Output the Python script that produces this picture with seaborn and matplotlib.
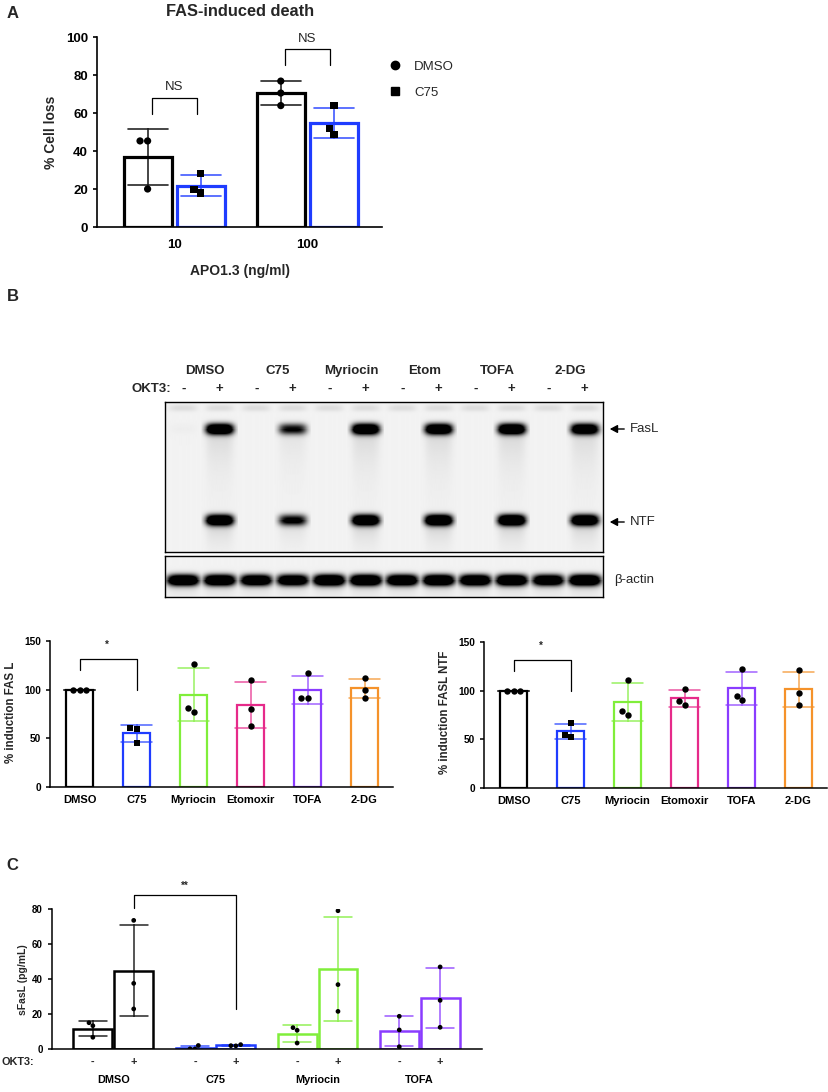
import numpy as np
import pandas as pd
import matplotlib
matplotlib.use("Agg")
import matplotlib.pyplot as plt
from matplotlib.lines import Line2D
from matplotlib.transforms import blended_transform_factory as blend
import seaborn as sns

# ---------------- data ----------------
# Panel A
a_conc = ["10", "100"]
a_treat = ["DMSO", "C75"]
a_dmso_10 = [45.3, 45.3, 20.0]
a_dmso_100 = [76.8, 70.5, 63.9]
a_c75_10 = [28.0, 17.9, 19.6]
a_c75_100 = [63.9, 51.9, 48.8]
a_colors = ["#000000", "#1f3cff"]

# Panel B blot
blot_groups = ["DMSO", "C75", "Myriocin", "Etom", "TOFA", "2-DG"]
okt3_signs = ["-", "+"]
well_band = [0.05] * 12
fasl_band = [0.01, 0.95, 0.0, 0.55, 0.0, 0.95, 0.0, 0.92, 0.0, 0.95, 0.0, 0.9]
ntf_band = [0.0, 0.95, 0.0, 0.6, 0.0, 0.95, 0.0, 1.0, 0.0, 1.0, 0.0, 0.95]
actin_band = [0.95, 0.95, 0.9, 0.88, 1.0, 1.0, 0.95, 0.97, 0.95, 0.97, 0.88, 1.0]

# Panel B quantification
b_drugs = ["DMSO", "C75", "Myriocin", "Etomoxir", "TOFA", "2-DG"]
b_colors = ["#000000", "#1f3cff", "#80ee3a", "#e62a8a", "#8a3cff", "#f5922a"]
fasl_dmso = [100, 100, 100]
fasl_c75 = [60.9, 59.9, 45.2]
fasl_myr = [125.9, 77.2, 81.0]
fasl_eto = [110.2, 79.9, 62.6]
fasl_tofa = [116.7, 91.5, 91.8]
fasl_2dg = [111.9, 100.0, 91.8]
ntf_dmso = [100, 100, 100]
ntf_c75 = [67.1, 52.7, 54.8]
ntf_myr = [111.0, 75.3, 79.1]
ntf_eto = [101.4, 85.3, 89.4]
ntf_tofa = [121.9, 90.4, 94.9]
ntf_2dg = [120.9, 97.3, 85.6]

# Panel C
c_groups = ["DMSO", "C75", "Myriocin", "TOFA"]
c_colors = ["#000000", "#1f3cff", "#80ee3a", "#8a3cff"]
c_minus = [[15.0, 13.3, 6.7], [0.1, 2.0, 0.0], [12.2, 10.7, 3.4], [18.7, 10.9, 1.3]]
c_plus = [[73.5, 37.5, 22.9], [1.8, 2.5, 1.9], [79.0, 36.8, 21.5], [46.9, 27.8, 12.4]]

# ---------------- setup ----------------
sns.set_theme(style="ticks")
plt.rcParams['font.family'] = ['Liberation Sans', 'DejaVu Sans']
plt.rcParams['font.weight'] = 'bold'
plt.rcParams['axes.labelweight'] = 'bold'

W, H = 829, 1092
fig = plt.figure(figsize=(W / 100, H / 100), dpi=100)


def rect(x0, y0, x1, y1):
    return [x0 / W, 1 - y1 / H, (x1 - x0) / W, (y1 - y0) / H]


def ftext(x, y, s, **kw):
    kw.setdefault("ha", "center")
    kw.setdefault("va", "center")
    fig.text(x / W, 1 - y / H, s, **kw)


def style_axes(ax, lw, tick_size):
    sns.despine(ax=ax)
    for sp in ("left", "bottom"):
        ax.spines[sp].set_linewidth(lw)
        ax.spines[sp].set_color("black")
    ax.tick_params(axis="y", length=3, width=lw, labelsize=tick_size, colors="black")
    ax.set_xlabel("")
    ax.set_ylabel("")
    for t in ax.get_yticklabels() + ax.get_xticklabels():
        t.set_fontweight("bold")


# ---------------- Panel A ----------------
ftext(13, 14, "A", fontsize=12, fontweight="bold")
ftext(240, 11, "FAS-induced death", fontsize=11.8, fontweight="bold")
axA = fig.add_axes(rect(97, 37, 382, 227))
rowsA = []
for trt, vals10, vals100 in [("DMSO", a_dmso_10, a_dmso_100), ("C75", a_c75_10, a_c75_100)]:
    for v in vals10:
        rowsA.append({"conc": "10", "trt": trt, "val": v})
    for v in vals100:
        rowsA.append({"conc": "100", "trt": trt, "val": v})
dfA = pd.DataFrame(rowsA)
sns.barplot(data=dfA, x="conc", y="val", hue="trt", order=a_conc, hue_order=a_treat,
            palette=a_colors, fill=False, errorbar="sd", capsize=0.6, gap=0.1,
            linewidth=2.3, err_kws={"linewidth": 1.2, "alpha": 0.85}, legend=False, ax=axA)
for trt, mk in zip(a_treat, ["o", "s"]):
    sns.swarmplot(data=dfA[dfA.trt == trt], x="conc", y="val", hue="trt", order=a_conc,
                  hue_order=a_treat, dodge=True, palette=["black", "black"], marker=mk,
                  size=5.2, linewidth=0, legend=False, zorder=4, ax=axA)
axA.set_xlim(-0.58, 1.56)
axA.set_ylim(0, 100)
axA.set_yticks([0, 20, 40, 60, 80, 100])
style_axes(axA, 1.2, 9.5)
axA.tick_params(axis="x", length=0, pad=9, labelsize=9.5, colors="black")
for t in axA.get_xticklabels():
    t.set_fontweight("bold")
axA.plot([-0.17, -0.17, 0.17, 0.17], [59.6, 68, 68, 59.6], color="black", lw=0.9)
axA.text(0, 70.5, "NS", ha="center", va="bottom", fontsize=9.5, fontweight="normal")
axA.plot([0.83, 0.83, 1.17, 1.17], [85.4, 93.5, 93.5, 85.4], color="black", lw=0.9)
axA.text(1, 96, "NS", ha="center", va="bottom", fontsize=9.5, fontweight="normal", clip_on=False)
ftext(51, 132, "% Cell loss", rotation=90, fontsize=10, fontweight="bold")
ftext(240, 271, "APO1.3 (ng/ml)", fontsize=10, fontweight="bold")
handles = [Line2D([], [], marker="o", ls="", color="black", markersize=6),
           Line2D([], [], marker="s", ls="", color="black", markersize=5.5)]
axA.legend(handles, a_treat, loc="upper left", bbox_to_anchor=(377 / W, 1 - 49 / H),
           bbox_transform=fig.transFigure, frameon=False, fontsize=9.5,
           labelspacing=1.0, handletextpad=0.9, handlelength=1.0,
           prop={"weight": "normal", "size": 9.5})

# ---------------- Panel B blot ----------------
ftext(13, 297, "B", fontsize=12, fontweight="bold")


def blot_image(bands, rows, lane_frac, base, n_sub=40):
    ncol = 12 * n_sub
    xs = (np.arange(ncol) + 0.5) / n_sub
    lane = np.floor(xs).astype(int)
    frac = xs - lane - 0.5
    h_core = np.exp(-(np.abs(frac) / (lane_frac / 2)) ** 4)
    ys = np.arange(rows) + 0.5
    img = np.full((rows, ncol), base)
    for inten, cy, sig, smear_amp, smear_len in bands:
        I = np.asarray(inten, dtype=float)[lane]
        v = np.exp(-(np.abs(ys - cy) / sig) ** 2.2)
        sm = np.where(ys > cy, smear_amp * np.exp(-(ys - cy) / smear_len), 0.0)
        img += np.outer(v, h_core * I * 1.7) + np.outer(sm, h_core * I)
    return np.clip(img, 0, 1)


axBl = fig.add_axes(rect(165, 402, 603, 552))
img_main = blot_image([(well_band, 6, 3.5, 0.0, 1.0),
                       (fasl_band, 27, 5.5, 0.14, 30.0),
                       (ntf_band, 118, 5.5, 0.22, 13.0)], 150, 0.76, 0.05)
axBl.imshow(img_main, cmap="gray_r", vmin=0, vmax=1, aspect="auto",
            extent=(-0.5, 11.5, 150, 0), interpolation="bilinear")
axAc = fig.add_axes(rect(165, 556, 603, 597))
img_act = blot_image([(actin_band, 24, 5.5, 0.3, 7.0)], 41, 0.86, 0.05)
axAc.imshow(img_act, cmap="gray_r", vmin=0, vmax=1, aspect="auto",
            extent=(-0.5, 11.5, 41, 0), interpolation="bilinear")
for ax in (axBl, axAc):
    ax.set_xticks([])
    ax.set_yticks([])
    for sp in ax.spines.values():
        sp.set_visible(True)
        sp.set_color("black")
        sp.set_linewidth(1.0)

trB = blend(axBl.transData, fig.transFigure)
for i, g in enumerate(blot_groups):
    axBl.text(2 * i + 0.6, 1 - 371 / H, g, transform=trB, ha="center", va="center",
              fontsize=9.5, fontweight="bold")
    for j, s in enumerate(okt3_signs):
        axBl.text(2 * i + j, 1 - 389 / H, s, transform=trB, ha="center", va="center",
                  fontsize=9.5, fontweight="bold")
ftext(171, 389, "OKT3:", ha="right", fontsize=9.5, fontweight="bold")
for lab, y in [("FasL", 429), ("NTF", 522)]:
    fig.add_artist(matplotlib.patches.FancyArrowPatch((627 / W, 1 - y / H), (607 / W, 1 - y / H),
                   transform=fig.transFigure, arrowstyle="-|>,head_length=3,head_width=1.6",
                   lw=1.0, color="black", mutation_scale=1.5))
    ftext(630, y, lab, ha="left", fontsize=9.5, fontweight="normal")
ftext(614, 580, "β-actin", ha="left", fontsize=9.5, fontweight="normal")


# ---------------- Panel B quantification ----------------
def b_chart(px, vals, ylabel, ylab_x, star_x):
    ax = fig.add_axes(rect(*px))
    df = pd.DataFrame([{"drug": d, "val": v} for d, vs in zip(b_drugs, vals) for v in vs])
    sns.barplot(data=df, x="drug", y="val", hue="drug", order=b_drugs, hue_order=b_drugs,
                palette=b_colors, fill=False, errorbar="sd", capsize=0.55, width=0.47,
                linewidth=1.6, err_kws={"linewidth": 1.1, "alpha": 0.8}, legend=False, ax=ax)
    sns.swarmplot(data=df[df.drug != "C75"], x="drug", y="val", order=b_drugs, color="black",
                  marker="o", size=4.6, linewidth=0, zorder=4, ax=ax)
    sns.swarmplot(data=df[df.drug == "C75"], x="drug", y="val", order=b_drugs, color="black",
                  marker="s", size=4.4, linewidth=0, zorder=4, ax=ax)
    ax.set_xlim(-0.52, 5.5)
    ax.set_ylim(0, 150)
    ax.set_yticks([0, 50, 100, 150])
    style_axes(ax, 1.1, 7.3)
    ax.tick_params(axis="x", length=0, pad=6, labelsize=8, colors="black")
    for t in ax.get_xticklabels():
        t.set_fontweight("bold")
    ax.plot([0, 0, 1, 1], [119.8, 131.5, 131.5, 100], color="black", lw=0.9)
    ax.text(star_x, 146, "*", ha="center", va="center", fontsize=7)
    ftext(ylab_x, 712, ylabel, rotation=90, fontsize=8.3, fontweight="bold")
    return ax


b_chart((50, 641, 393, 787), [fasl_dmso, fasl_c75, fasl_myr, fasl_eto, fasl_tofa, fasl_2dg],
        "% induction FAS L", 11, 0.47)
b_chart((484, 642, 827, 788), [ntf_dmso, ntf_c75, ntf_myr, ntf_eto, ntf_tofa, ntf_2dg],
        "% induction FASL NTF", 445, 0.47)

# ---------------- Panel C ----------------
ftext(12, 865, "C", fontsize=12, fontweight="bold")
axC = fig.add_axes(rect(52, 909, 482, 1049))
rowsC = []
for g, mv, pv in zip(c_groups, c_minus, c_plus):
    for v in mv:
        rowsC.append({"grp": g, "okt3": "-", "val": v})
    for v in pv:
        rowsC.append({"grp": g, "okt3": "+", "val": v})
dfC = pd.DataFrame(rowsC)
for g, col in zip(c_groups, c_colors):
    sub = dfC[dfC.grp == g]
    sns.barplot(data=sub, x="grp", y="val", hue="okt3", order=c_groups, hue_order=okt3_signs,
                palette={"-": col, "+": col}, fill=False, errorbar="sd", capsize=0.55, gap=0.05,
                linewidth=1.8, err_kws={"linewidth": 1.1, "alpha": 0.85}, legend=False, ax=axC)
    sns.swarmplot(data=sub, x="grp", y="val", hue="okt3", order=c_groups, hue_order=okt3_signs,
                  dodge=True, palette={"-": "black", "+": "black"}, size=3.4, linewidth=0,
                  legend=False, zorder=4, ax=axC)
axC.set_xlim(-0.60, 3.61)
axC.set_ylim(0, 80)
axC.set_yticks([0, 20, 40, 60, 80])
style_axes(axC, 1.1, 7)
axC.tick_params(axis="x", length=0, pad=19, labelsize=7.8, colors="black")
for t in axC.get_xticklabels():
    t.set_fontweight("bold")
trC = blend(axC.transData, fig.transFigure)
for i in range(len(c_groups)):
    for j, s in enumerate(okt3_signs):
        axC.text(i - 0.2 + 0.4 * j, 1 - 1062 / H, s, transform=trC, ha="center", va="center",
                 fontsize=7.8, fontweight="bold")
axC.plot([0.2, 0.2, 1.2, 1.2], [80.6, 88.2, 88.2, 22.9], color="black", lw=0.9, clip_on=False)
axC.text(0.7, 93.5, "**", ha="center", va="center", fontsize=7, clip_on=False)
ftext(2, 1062, "OKT3:", ha="left", fontsize=7.8, fontweight="bold")
ftext(23, 980, "sFasL (pg/mL)", rotation=90, fontsize=7.5, fontweight="bold")

fig.savefig("out.png", dpi=100)
